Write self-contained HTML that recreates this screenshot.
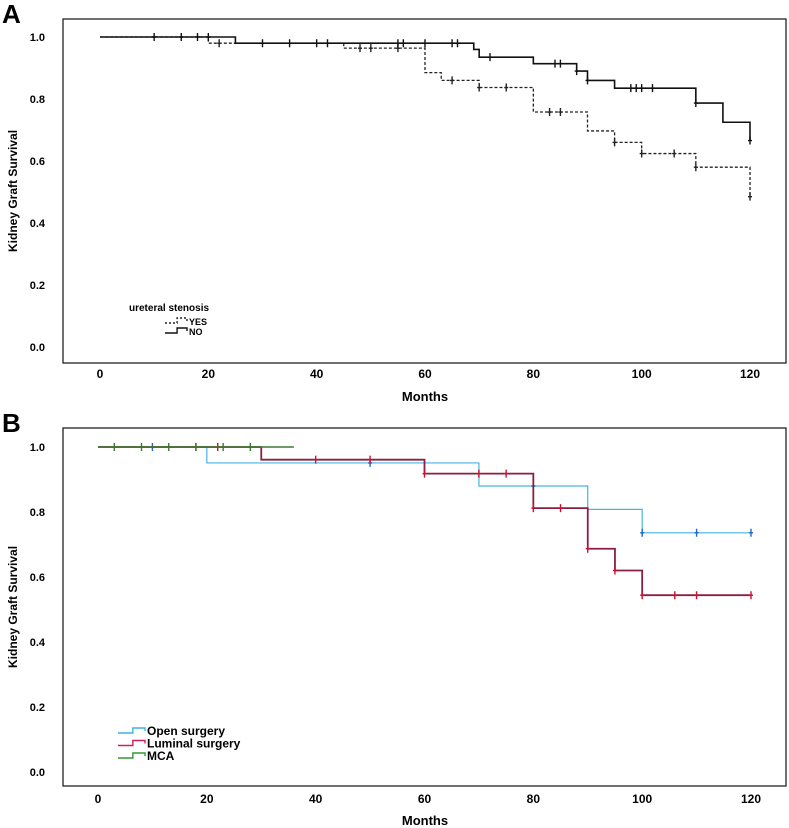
<!DOCTYPE html>
<html><head><meta charset="utf-8">
<style>
html,body{margin:0;padding:0;background:#fff;}
svg{display:block;font-family:"Liberation Sans Narrow","Liberation Sans",sans-serif;}
</style></head>
<body>
<svg id="chart" width="789" height="828" viewBox="0 0 789 828"></svg>
<script>
// ---- Panel A data ----
const ticksX = [0,20,40,60,80,100,120];
const ticksY = [0.0,0.2,0.4,0.6,0.8,1.0];
const yesTimes = [0,20,45,60,63,70,80,90,95,100,110,120];
const yesSurv  = [1.0,0.98,0.964,0.885,0.86,0.837,0.758,0.697,0.66,0.624,0.58,0.485];
const yesCens  = [22,48,50,55,65,70,75,83,85,95,100,106,110,120];
const noTimes = [0,25,69,70,80,88,90,95,110,115,120];
const noSurv  = [1.0,0.98,0.96,0.935,0.914,0.89,0.86,0.835,0.787,0.725,0.666];
const noCens  = [10,15,18,20,30,35,40,42,55,56,60,65,66,72,84,85,88,90,98,99,100,102,110,120];
// ---- Panel B data ----
const openTimes = [0,20,70,90,100,120];
const openSurv  = [1.0,0.951,0.88,0.808,0.736,0.736];
const openCens  = [10,50,80,100,110,120];
const lumTimes = [0,30,60,80,90,95,100,120];
const lumSurv  = [1.0,0.961,0.918,0.812,0.687,0.62,0.544,0.544];
const lumCens  = [18,22,40,50,60,70,75,80,85,90,95,100,106,110,120];
const mcaTimes = [0,36];
const mcaSurv  = [1.0,1.0];
const mcaCens  = [3,8,13,18,23,28];

const NS="http://www.w3.org/2000/svg";
const svg=document.getElementById('chart');
function mk(tag,attrs,parent){const e=document.createElementNS(NS,tag);for(const k in attrs)e.setAttribute(k,attrs[k]);(parent||svg).appendChild(e);return e;}

function panel(cfg){
  const g=mk('g',{});
  
  
  const sx=v=>cfg.x0+(v/120)*(cfg.x1-cfg.x0);
  const Y=v=>cfg.yZero-(v)*(cfg.yZero-cfg.yOne);
  const box=mk('rect',{x:63,y:cfg.top,width:723,height:cfg.bottom-cfg.top,fill:'none',stroke:'#222','stroke-width':1.3},g);
  
  
  const lab=mk('text',{x:2,y:cfg.top+4,'font-size':26,'font-weight':'bold',fill:'#000'},g);
  lab.textContent=cfg.letter;
  
  
  ticksY.forEach(v=>{
    const t=mk('text',{x:45,y:Y(v)+4,'font-size':11,'font-weight':'bold','text-anchor':'end'},g);
    t.textContent=v.toFixed(1);
    
    
  });
  ticksX.forEach(v=>{
    const t=mk('text',{x:sx(v),y:cfg.tickY,'font-size':12,'font-weight':'bold','text-anchor':'middle'},g);
    t.textContent=v;
    
    
  });
  const xt=mk('text',{x:425,y:cfg.monthsY,'font-size':13,'font-weight':'bold','text-anchor':'middle'},g);
  xt.textContent='Months';
  
  
  const cy=(cfg.top+cfg.bottom)/2;
  const yt=mk('text',{x:0,y:0,'font-size':12,'font-weight':'bold','text-anchor':'middle',transform:`translate(17,${cy}) rotate(-90)`},g);
  yt.textContent='Kidney Graft Survival';
  
  
  cfg.series.forEach(s=>{
    let d=`M${sx(s.t[0])},${Y(s.s[0])}`;
    for(let i=1;i<s.t.length;i++){d+=` H${sx(s.t[i])} V${Y(s.s[i])}`;}
    const p=mk('path',{d:d,fill:'none',stroke:s.color,'stroke-width':s.w,'stroke-dasharray':s.dash||'none'},g);
    
    
    s.c.forEach(c=>{
      let v=s.s[0];
      for(let i=0;i<s.t.length;i++){if(s.t[i]<=c)v=s.s[i];}
      const m=mk('path',{d:`M${sx(c)},${Y(v)-4} V${Y(v)+4} M${sx(c)-2},${Y(v)} H${sx(c)+2}`,stroke:s.mark||s.color,'stroke-width':1.4},g);
      
      
    });
  });
  const lt=mk('text',{x:cfg.legX,y:cfg.legY,'font-size':cfg.legSize,'font-weight':'bold'},g);
  lt.textContent=cfg.legTitle||'';
  
  
  cfg.legend.forEach((L,i)=>{
    const yy=cfg.legItemY+i*cfg.legStep;
    const x=cfg.legItemX, w=cfg.swW;
    const p=mk('path',{d:`M${x},${yy+2} H${x+w*0.55} V${yy-3} H${x+w} V${yy}`,fill:'none',stroke:L.color,'stroke-width':1.4,'stroke-dasharray':L.dash||'none'},g);
    
    
    const t=mk('text',{x:x+w+2,y:yy+4,'font-size':cfg.legItemSize,'font-weight':'bold'},g);
    t.textContent=L.label;
    
    
  });
}

panel({name:'panel-a',letter:'A',top:19,bottom:363,x0:100,x1:750,yOne:37,yZero:347,tickY:378,monthsY:401,
  legTitle:'ureteral stenosis',legX:129,legY:311,legSize:10,legItemX:165,legItemY:321,legStep:10,legItemSize:9,swW:22,
  legend:[{label:'YES',color:'#222',dash:'2,2'},{label:'NO',color:'#111'}],
  series:[
    {name:'yes',t:yesTimes,s:yesSurv,c:yesCens,color:'#222',w:1.3,dash:'3,2'},
    {name:'no',t:noTimes,s:noSurv,c:noCens,color:'#111',w:1.6}
  ]});

panel({name:'panel-b',letter:'B',top:428,bottom:786,x0:98,x1:751,yOne:447,yZero:772,tickY:803,monthsY:825,
  legTitle:'',legX:0,legY:0,legSize:10,legItemX:118,legItemY:731,legStep:12.5,legItemSize:12,swW:27,
  legend:[{label:'Open surgery',color:'#3ab3e6'},{label:'Luminal surgery',color:'#d0205a'},{label:'MCA',color:'#2e9a2e'}],
  series:[
    {name:'open-surgery',t:openTimes,s:openSurv,c:openCens,color:'#45b4e6',w:1.2,mark:'#1f66c8'},
    {name:'luminal-surgery',t:lumTimes,s:lumSurv,c:lumCens,color:'#8a2040',w:1.8,mark:'#cc1030'},
    {name:'mca',t:mcaTimes,s:mcaSurv,c:mcaCens,color:'#3c7a32',w:1.6}
  ]});
</script>
</body></html>
